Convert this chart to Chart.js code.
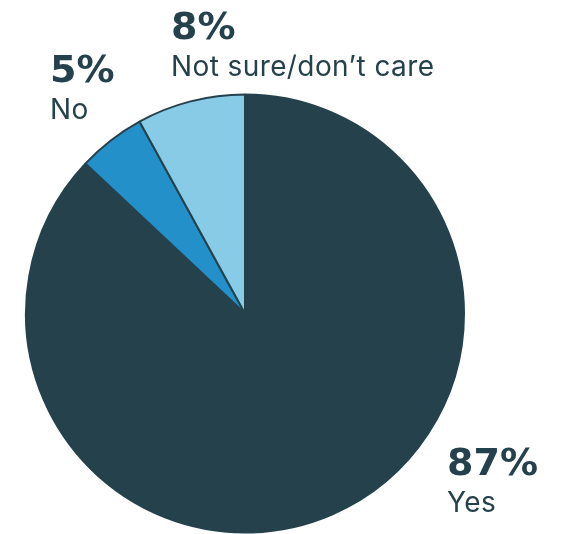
<!DOCTYPE html>
<html>
<head>
<meta charset="utf-8">
<script src="https://cdn.jsdelivr.net/npm/chart.js@4.4.1/dist/chart.umd.min.js"></script>
<style>
  html, body { margin: 0; padding: 0; background: #fff; }
  #wrap { width: 565px; height: 534px; }
</style>
</head>
<body>
<div id="wrap"><canvas id="pieChart" width="565" height="534"></canvas></div>
<script>
// data
var categories = ['Yes', 'No', 'Not sure/don\u2019t care'];
var percents = [87, 5, 8];
var sliceColors = ['#25424c', '#2390c9', '#88cbe6'];

// where each label sits (left x, baseline of percent line)
var labelSpots = [
    { x: 447, y: 475 },
    { x: 50, y: 82 },
    { x: 171, y: 39 }
];

var textColor = '#25424c';

var labelPlugin = {
    id: 'sliceLabels',
    afterDraw: function(chart) {
        var c = chart.ctx;
        c.save();
        c.fillStyle = textColor;
        c.textAlign = 'left';
        c.textBaseline = 'alphabetic';
        categories.forEach(function(name, i) {
            var p = labelSpots[i];
            c.font = 'bold 38px "DejaVu Sans"';
            c.fillText(percents[i] + '%', p.x, p.y);
            c.font = '400 28px Inter';
            c.letterSpacing = '0.4px';
            c.fillText(name, p.x, p.y + 37);
            c.letterSpacing = '0px';
        });
        c.restore();
    }
};

var ctx = document.getElementById('pieChart').getContext('2d');
var pieChart = new Chart(ctx, {
    type: 'pie',
    data: {
        labels: categories,
        datasets: [{
            data: percents,
            backgroundColor: sliceColors,
            borderColor: '#25424c',
            borderWidth: 2
        }]
    },
    options: {
        responsive: false,
        animation: false,
        layout: {
            padding: { left: 25, right: 100, top: 93, bottom: 0 }
        },
        plugins: {
            legend: { display: false },
            tooltip: { enabled: false }
        }
    },
    plugins: [labelPlugin]
});
</script>
</body>
</html>
